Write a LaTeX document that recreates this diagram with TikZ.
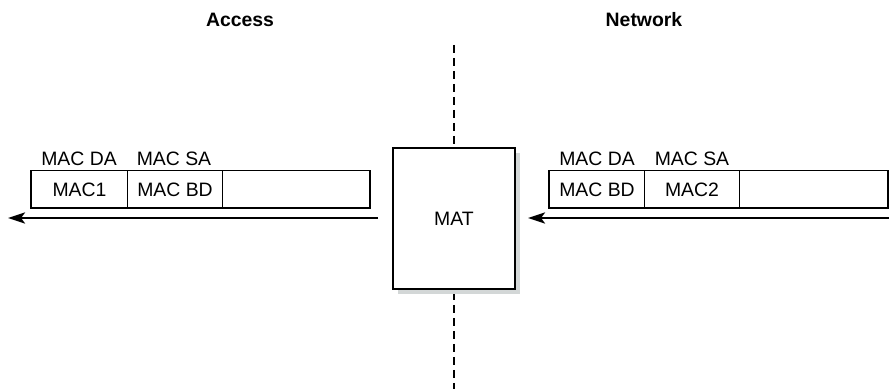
\documentclass[tikz,border=0pt]{standalone}
\usepackage{fontspec}
\setmainfont{Liberation Sans}
\usetikzlibrary{arrows.meta, positioning}
\definecolor{shadowgray}{HTML}{D3D7D7}
\tikzset{
  cell/.style={rectangle, draw=black, line width=0.5pt, minimum height=18.5pt,
               inner sep=0pt, anchor=west, font=\fontsize{9.7}{11}\selectfont},
  hdr/.style={font=\fontsize{9.7}{11}\selectfont, inner sep=0pt},
  ttl/.style={font=\fontsize{9.7}{11}\selectfont\bfseries, inner sep=0pt},
  frame/.style={draw=black, line width=0.9pt},
  arr/.style={-{Stealth[length=8.5pt, width=5.5pt, inset=2pt]}, line width=1.3pt},
}

\begin{document}
\begin{tikzpicture}[x=0.5pt, y=-0.5pt]
  \useasboundingbox (0,0) rectangle (889,389);

  % Titles
  \node[ttl] (access) at (240,20) {Access};
  \node[ttl] (network) at (644,20) {Network};

  % Boundary line
  \coordinate (btop) at (454,45);
  \coordinate (bbot) at (454,389);
  \draw[line width=0.8pt, dash pattern=on 4pt off 2.5pt] (btop) -- (bbot);

  % MAT box with shadow
  \fill[shadowgray] (398,153) rectangle (520,294);
  \node[rectangle, draw=black, fill=white, line width=1pt, minimum width=61pt,
        minimum height=70.5pt, inner sep=0pt, font=\fontsize{9.7}{11}\selectfont]
    (mat) at (454,218.5) {MAT};

  % Access side frame
  \node[cell, minimum width=48pt] (lda) at (31,189.5) {MAC1};
  \node[cell, minimum width=47.5pt] (lsa) at (127,189.5) {MAC BD};
  \node[cell, minimum width=73.5pt] (lpl) at (222,189.5) {};
  \draw[frame] (lda.north west) rectangle (lpl.south east);
  \node[hdr] (ldah) at (79,159) {MAC DA};
  \node[hdr] (lsah) at (174,159) {MAC SA};

  % Network side frame
  \node[cell, minimum width=47.5pt] (rda) at (549,189.5) {MAC BD};
  \node[cell, minimum width=47.5pt] (rsa) at (644,189.5) {MAC2};
  \node[cell, minimum width=74pt] (rpl) at (739,189.5) {};
  \draw[frame] (rda.north west) rectangle (rpl.south east);
  \node[hdr] (rdah) at (597,159) {MAC DA};
  \node[hdr] (rsah) at (692,159) {MAC SA};

  % Arrows
  \coordinate (lend) at (8,218);
  \coordinate (rstart) at (889,218);
  \draw[arr] (mat.west |- lend) ++(-14,0) -- (lend);
  \draw[arr] (rstart) -- ([xshift=6pt]mat.east |- rstart);
\end{tikzpicture}
\end{document}
